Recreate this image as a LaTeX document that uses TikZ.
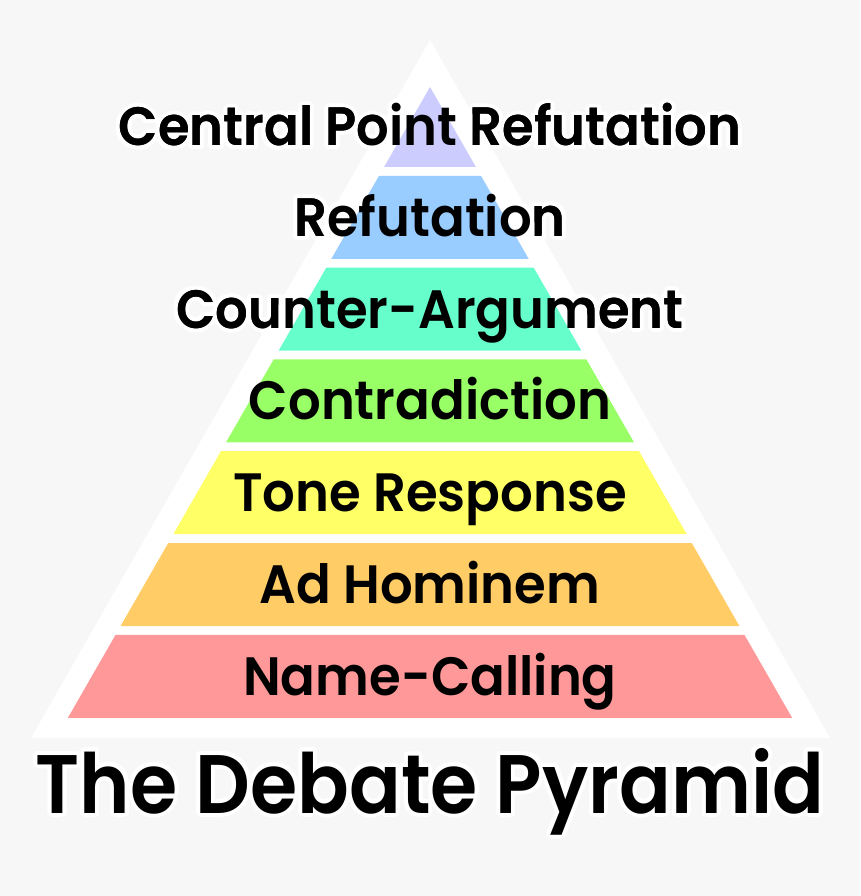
\documentclass[tikz,border=0pt]{standalone}
\usepackage{fontspec}
\setmainfont{Poppins}[BoldFont={Poppins SemiBold}, FakeStretch=0.95]
\newfontfamily\titlefont{Poppins SemiBold}[FakeStretch=0.92]
\usepackage{contour}
\contourlength{4pt}
\contournumber{32}
\usetikzlibrary{calc}
\definecolor{canvas}{HTML}{F7F7F7}
\definecolor{tierA}{HTML}{CCCCFF}
\definecolor{tierB}{HTML}{99CCFF}
\definecolor{tierC}{HTML}{66FFCC}
\definecolor{tierD}{HTML}{99FF66}
\definecolor{tierE}{HTML}{FFFF66}
\definecolor{tierF}{HTML}{FFCC66}
\definecolor{tierG}{HTML}{FF9999}

\begin{document}
\begin{tikzpicture}[x=1pt, y=-1pt,
                    tierlabel/.style={font=\fontsize{54}{60}\selectfont\bfseries,
                                      anchor=base, inner sep=0pt},
                    titlelabel/.style={font=\titlefont\fontsize{83}{90}\selectfont,
                                       anchor=base, inner sep=0pt}]

  \fill[canvas] (0,0) rectangle (860,896);

  % white halos first, so the bands hide them
  \foreach \i/\txt in {0/Central Point Refutation, 1/Refutation, 2/Counter-Argument,
                       3/Contradiction, 4/Tone Response, 5/Ad Hominem, 6/Name-Calling} {
    \pgfmathsetmacro\yb{167+91.8*\i}
    \pgfmathsetmacro\yt{\i==0 ? 87 : \yb-83}
    \node[tierlabel] (halo\i) at (430,{(\yt+\yb)/2+19}) {\contour{white}{\txt}};
  }

  % pyramid frame
  \coordinate (apex)  at (430,40);
  \coordinate (left)  at (31,738);
  \coordinate (right) at (830,738);
  \fill[white] (apex) -- (right) -- (left) -- cycle;

  % bands and their labels
  \foreach \i/\txt/\col in {0/Central Point Refutation/tierA, 1/Refutation/tierB,
                            2/Counter-Argument/tierC, 3/Contradiction/tierD,
                            4/Tone Response/tierE, 5/Ad Hominem/tierF,
                            6/Name-Calling/tierG} {
    \pgfmathsetmacro\yb{167+91.8*\i}
    \pgfmathsetmacro\yt{\i==0 ? 87 : \yb-83}
    \pgfmathsetmacro\dt{0.574*(\yt-87)}
    \pgfmathsetmacro\db{0.574*(\yb-87)}
    \fill[\col] (430-\dt,\yt) -- (430+\dt,\yt) -- (430+\db,\yb) -- (430-\db,\yb) -- cycle;
    \node[tierlabel] (tier\i) at (430,{(\yt+\yb)/2+19}) {\txt};
  }

  \node[titlelabel] (title) at (430,813) {\contour{white}{The Debate Pyramid}};

\end{tikzpicture}
\end{document}
